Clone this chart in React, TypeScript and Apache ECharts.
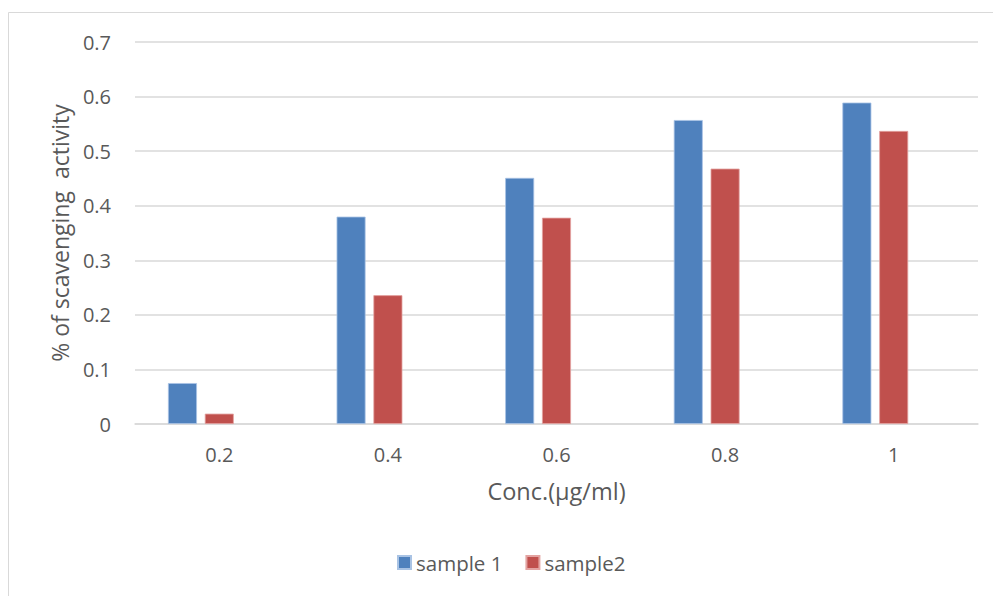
import React, { useEffect, useRef } from "react";
import * as echarts from "echarts";

const categories = ["0.2", "0.4", "0.6", "0.8", "1"];
const sample1 = [0.075, 0.38, 0.451, 0.557, 0.589];
const sample2 = [0.019, 0.236, 0.378, 0.468, 0.537];
const spacer = [null, null, null, null, null];
const seriesNames = ["sample 1", "sample2"];

const FONT = "Open Sans";
const TXT = "#595959";

export default function App() {
  const ref = useRef<HTMLDivElement>(null);
  useEffect(() => {
    if (!ref.current) return;
    const chart = echarts.init(ref.current, undefined, { renderer: "svg" });
    chart.setOption({
      animation: false,
      backgroundColor: "#ffffff",
      textStyle: { fontFamily: FONT, color: TXT },
      graphic: [
        {
          type: "rect",
          shape: { x: 8.5, y: 12.5, width: 1000, height: 600 },
          style: { fill: "none", stroke: "#d9d9d9", lineWidth: 1 },
          silent: true,
        },
      ],
      grid: { left: 135, right: 15, top: 42, bottom: 172 },
      legend: {
        data: seriesNames,
        bottom: 18,
        left: 392,
        itemWidth: 13,
        itemHeight: 13,
        itemGap: 23,
        icon: "rect",
        textStyle: { fontFamily: FONT, fontSize: 20.5, color: TXT },
      },
      xAxis: {
        type: "category",
        data: categories,
        axisLine: { lineStyle: { color: "#d9d9d9", width: 1.5 } },
        axisTick: { show: false },
        axisLabel: { fontFamily: FONT, fontSize: 20, color: TXT, margin: 20 },
        name: "Conc.(µg/ml)",
        nameLocation: "middle",
        nameGap: 55,
        nameTextStyle: { fontFamily: FONT, fontSize: 23.5, color: TXT },
      },
      yAxis: {
        type: "value",
        min: 0,
        max: 0.7,
        interval: 0.1,
        axisLine: { show: false },
        axisTick: { show: false },
        splitLine: { lineStyle: { color: "#d9d9d9", width: 1.5 } },
        axisLabel: {
          fontFamily: FONT,
          fontSize: 20,
          color: TXT,
          margin: 24,
          formatter: (v: number) => (v === 0 ? "0" : v.toFixed(1)),
        },
        name: "% of scavenging  activity",
        nameLocation: "middle",
        nameGap: 63,
        nameTextStyle: { fontFamily: FONT, fontSize: 23, color: TXT },
      },
      series: [
        {
          name: seriesNames[0],
          type: "bar",
          data: sample1,
          barWidth: 29,
          barGap: "27%",
          itemStyle: { color: "#4F81BD", borderColor: "#a9c3e4", borderWidth: 0.8 },
        },
        {
          name: seriesNames[1],
          type: "bar",
          data: sample2,
          barWidth: 29,
          barGap: "27%",
          itemStyle: { color: "#C0504D", borderColor: "#e3a3a1", borderWidth: 0.8 },
        },
        {
          name: "spacer",
          type: "bar",
          data: spacer,
          barWidth: 29,
          barGap: "27%",
          itemStyle: { color: "transparent" },
        },
      ],
    });
    return () => chart.dispose();
  }, []);
  return (
    <div
      ref={ref}
      style={{ position: "absolute", left: 0, top: 0, width: 993, height: 596 }}
    />
  );
}
